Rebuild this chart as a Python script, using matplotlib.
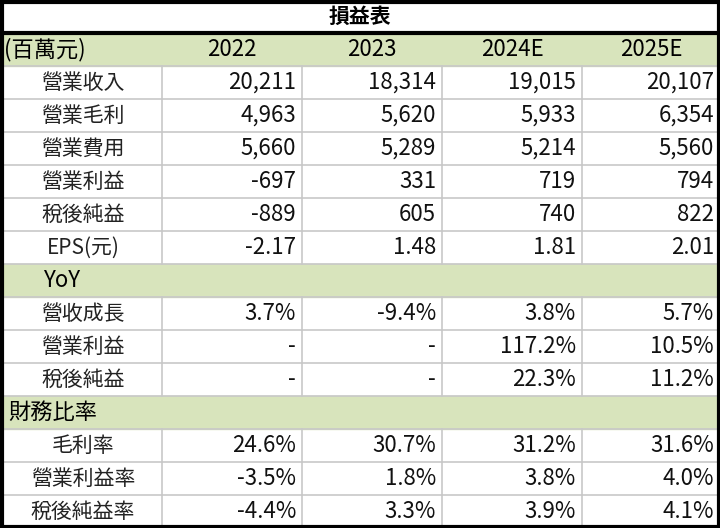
import matplotlib
matplotlib.use("Agg")
import matplotlib.pyplot as plt
from matplotlib.patches import Rectangle
from matplotlib import font_manager as fm

title = "損益表"
unit_label = "(百萬元)"
years = ["2022", "2023", "2024E", "2025E"]
income_labels = ["營業收入", "營業毛利", "營業費用", "營業利益", "稅後純益", "EPS(元)"]
income_values = [
    ["20,211", "18,314", "19,015", "20,107"],
    ["4,963", "5,620", "5,933", "6,354"],
    ["5,660", "5,289", "5,214", "5,560"],
    ["-697", "331", "719", "794"],
    ["-889", "605", "740", "822"],
    ["-2.17", "1.48", "1.81", "2.01"],
]
yoy_header = "YoY"
yoy_labels = ["營收成長", "營業利益", "稅後純益"]
yoy_values = [
    ["3.7%", "-9.4%", "3.8%", "5.7%"],
    ["-", "-", "117.2%", "10.5%"],
    ["-", "-", "22.3%", "11.2%"],
]
ratio_header = "財務比率"
ratio_labels = ["毛利率", "營業利益率", "稅後純益率"]
ratio_values = [
    ["24.6%", "30.7%", "31.2%", "31.6%"],
    ["-3.5%", "1.8%", "3.8%", "4.0%"],
    ["-4.4%", "3.3%", "3.9%", "4.1%"],
]

# locate a CJK font robustly
cjk_name = None
for f in fm.findSystemFonts():
    if "CJK" in f or "cjk" in f.lower():
        try:
            fm.fontManager.addfont(f)
            nm = fm.FontProperties(fname=f).get_name()
            if cjk_name is None or "TC" in nm:
                cjk_name = nm
        except Exception:
            pass
fams = [n for n in [cjk_name, "Noto Sans CJK TC", "Noto Sans CJK JP"] if n] + ["DejaVu Sans"]
plt.rcParams["font.family"] = "sans-serif"
plt.rcParams["font.sans-serif"] = fams

W, H = 720, 528
fig = plt.figure(figsize=(7.2, 5.28), dpi=100)
ax = fig.add_axes([0, 0, 1, 1])
ax.set_xlim(0, W)
ax.set_ylim(H, 0)
ax.axis("off")

green = "#D8E4BC"
grid = "#C8C8C8"
col_x = [0, 162, 302, 442, 582, 720]
rh = H / 16.0
fs = 15

rows = []
rows.append(("title", title, None))
rows.append(("header", unit_label, years))
for l, v in zip(income_labels, income_values):
    rows.append(("data", l, v))
rows.append(("section", yoy_header, None))
for l, v in zip(yoy_labels, yoy_values):
    rows.append(("data", l, v))
rows.append(("section2", ratio_header, None))
for l, v in zip(ratio_labels, ratio_values):
    rows.append(("data", l, v))

for i, (kind, lab, vals) in enumerate(rows):
    y0 = i * rh
    yc = y0 + rh / 2
    if kind == "title":
        ax.text(W / 2, yc, lab, ha="center", va="center", fontsize=fs, fontweight="bold")
    elif kind == "header":
        ax.add_patch(Rectangle((0, y0), W, rh, color=green, zorder=0))
        ax.text(4, yc, lab, ha="left", va="center", fontsize=fs + 1)
        for j, v in enumerate(vals):
            ax.text((col_x[j + 1] + col_x[j + 2]) / 2, yc, v, ha="center", va="center", fontsize=fs + 1)
    elif kind == "section":
        ax.add_patch(Rectangle((0, y0), W, rh, color=green, zorder=0))
        ax.text(62, yc, lab, ha="center", va="center", fontsize=fs + 1)
    elif kind == "section2":
        ax.add_patch(Rectangle((0, y0), W, rh, color=green, zorder=0))
        ax.text(8, yc, lab, ha="left", va="center", fontsize=fs + 1)
    else:
        ax.text(col_x[1] / 2 + 2, yc, lab, ha="center", va="center", fontsize=fs, color="#222222")
        for j, v in enumerate(vals):
            ax.text(col_x[j + 2] - 6, yc, v, ha="right", va="center", fontsize=fs + 1, color="#111111")
        for x in col_x[1:-1]:
            ax.plot([x, x], [y0, y0 + rh], color=grid, lw=1.2, zorder=1)
    if i > 1:
        ax.plot([0, W], [y0, y0], color=grid, lw=1.2, zorder=1)

ax.plot([0, W], [rh, rh], color="black", lw=3, zorder=3)
ax.add_patch(Rectangle((1.5, 1.5), W - 3, H - 3, fill=False, ec="black", lw=3, zorder=3))

fig.savefig("out.png", dpi=100)
